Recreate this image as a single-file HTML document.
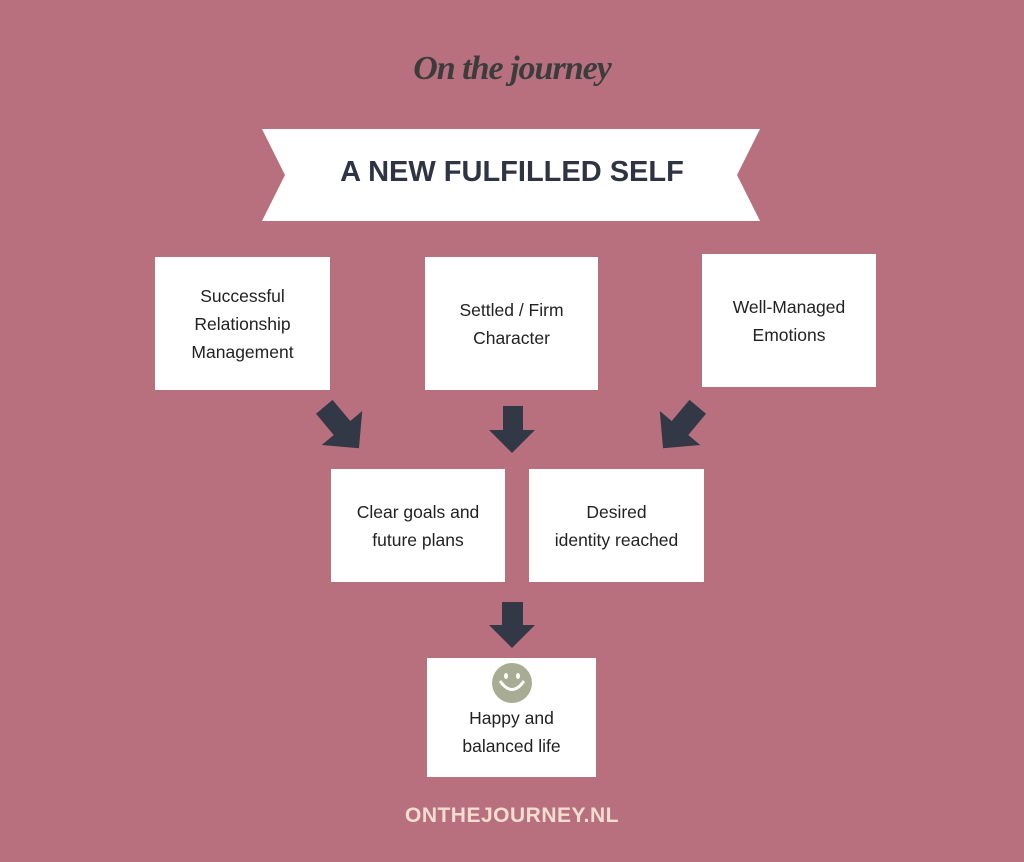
<!DOCTYPE html>
<html><head><meta charset="utf-8"><style>
*{margin:0;padding:0}
body{width:1024px;height:862px;background:#b8707f;position:relative;overflow:hidden;font-family:"Liberation Sans",sans-serif}
.box{position:absolute;background:#fff;display:flex;align-items:center;justify-content:center;text-align:center;color:#222;font-size:17.5px;line-height:28px}
.t{position:absolute;left:0;width:1024px;text-align:center}
</style></head><body>
<div class="t" style="top:50px;font-family:'Liberation Serif',serif;font-style:italic;font-weight:bold;font-size:34px;color:#3c3c3c;letter-spacing:-1px">On the journey</div>
<svg style="position:absolute;left:0;top:0" width="1024" height="862">
<polygon points="262,129 760,129 737,175 760,221 262,221 285,175" fill="#fff"/>
<g fill="#323845">
<polygon points="503,406 523,406 523,430 535,430 512,453 489,430 503,430"/>
<polygon points="502,602 523,602 523,625 535,625 512,648 489,625 502,625"/>
<g transform="translate(342,428) rotate(-40) scale(1.2)"><polygon points="-9,-23 9,-23 9,0 22,0 0,22 -22,0 -9,0"/></g>
<g transform="translate(680,428) rotate(40) scale(1.2)"><polygon points="-9,-23 9,-23 9,0 22,0 0,22 -22,0 -9,0"/></g>
</g>
</svg>
<div class="t" style="top:156px;font-size:29px;font-weight:bold;color:#2f3444">A NEW FULFILLED SELF</div>
<div class="box" style="left:155px;top:257px;width:175px;height:133px">Successful<br>Relationship<br>Management</div>
<div class="box" style="left:425px;top:257px;width:173px;height:133px">Settled / Firm<br>Character</div>
<div class="box" style="left:702px;top:254px;width:174px;height:133px">Well-Managed<br>Emotions</div>
<div class="box" style="left:331px;top:469px;width:174px;height:84px;align-items:flex-start;padding-top:29px">Clear goals and<br>future plans</div>
<div class="box" style="left:529px;top:469px;width:175px;height:84px;align-items:flex-start;padding-top:29px">Desired<br>identity reached</div>
<div class="box" style="left:427px;top:658px;width:169px;height:119px;align-items:flex-start"><div style="margin-top:46px">Happy and<br>balanced life</div></div>
<svg style="position:absolute;left:0;top:0" width="1024" height="862">
<circle cx="512" cy="683" r="20" fill="#a8ac92"/>
<ellipse cx="506" cy="676" rx="2" ry="3" fill="#fff"/>
<ellipse cx="518" cy="676" rx="2" ry="3" fill="#fff"/>
<path d="M500,681 Q512,698 524,681" stroke="#fff" stroke-width="3" fill="none"/>
</svg>
<div class="t" style="top:804px;font-size:21px;font-weight:bold;color:#f3dcd0;letter-spacing:0.5px">ONTHEJOURNEY.NL</div>
</body></html>
